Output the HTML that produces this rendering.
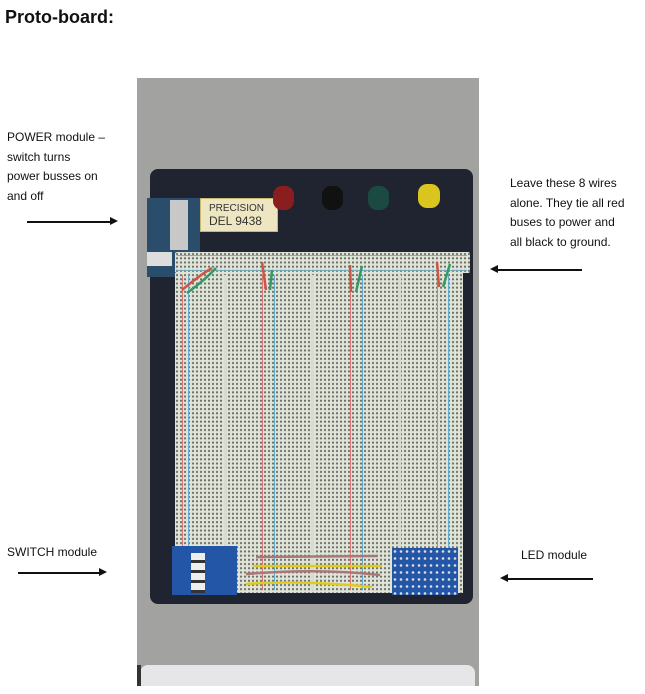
<!DOCTYPE html>
<html><head><meta charset="utf-8"><style>
body{margin:0;width:645px;height:694px;background:#fff;position:relative;overflow:hidden;font-family:"Liberation Sans",Arial,sans-serif}
.a{position:absolute}
.t{position:absolute;font-size:12px;line-height:19.5px;color:#111}
.arr{position:absolute;height:1.5px;background:#111}
.holes{background-color:#e0e4d8;background-image:radial-gradient(circle,#6d7068 0.9px,transparent 1.3px);background-size:4px 4.2px}
</style></head><body>
<div class="a" style="left:5px;top:7px;font-size:18px;font-weight:bold;color:#111">Proto-board:</div>

<div class="t" style="left:7px;top:128px">POWER module –<br>switch turns<br>power busses on<br>and off</div>
<div class="arr" style="left:27px;top:221px;width:84px"></div>
<div class="a" style="left:110px;top:217px;border-left:8px solid #111;border-top:4px solid transparent;border-bottom:4px solid transparent"></div>

<div class="t" style="left:510px;top:174px">Leave these 8 wires<br>alone. They tie all red<br>buses to power and<br>all black to ground.</div>
<div class="arr" style="left:497px;top:269px;width:85px"></div>
<div class="a" style="left:490px;top:265px;border-right:8px solid #111;border-top:4px solid transparent;border-bottom:4px solid transparent"></div>

<div class="t" style="left:7px;top:543px">SWITCH module</div>
<div class="arr" style="left:18px;top:572px;width:82px"></div>
<div class="a" style="left:99px;top:568px;border-left:8px solid #111;border-top:4px solid transparent;border-bottom:4px solid transparent"></div>

<div class="t" style="left:521px;top:546px">LED module</div>
<div class="arr" style="left:507px;top:578px;width:86px"></div>
<div class="a" style="left:500px;top:574px;border-right:8px solid #111;border-top:4px solid transparent;border-bottom:4px solid transparent"></div>

<!-- photo -->
<div class="a" style="left:137px;top:78px;width:342px;height:608px;background:#a2a2a0"></div>
<div class="a" style="left:140px;top:665px;width:335px;height:21px;background:#e6e6e8;border-radius:8px 8px 0 0"></div>
<div class="a" style="left:137px;top:665px;width:4px;height:21px;background:#333"></div>
<!-- board -->
<div class="a" style="left:150px;top:169px;width:323px;height:435px;background:#1f2430;border-radius:8px"></div>
<!-- label plate -->
<div class="a" style="left:200px;top:198px;width:78px;height:34px;background:#eee6c0;border:1px solid #c9b870;font-size:10px;line-height:13px;color:#333;padding:3px 0 0 8px;box-sizing:border-box">PRECISION<br><span style="font-size:12px">DEL 9438</span></div>
<!-- binding posts -->
<div class="a" style="left:273px;top:186px;width:21px;height:24px;border-radius:9px;background:#8a1d1d"></div>
<div class="a" style="left:322px;top:186px;width:21px;height:24px;border-radius:9px;background:#111"></div>
<div class="a" style="left:368px;top:186px;width:21px;height:24px;border-radius:9px;background:#1b4a42"></div>
<div class="a" style="left:418px;top:184px;width:22px;height:24px;border-radius:9px;background:#d9c51e"></div>
<!-- power module -->
<div class="a" style="left:147px;top:198px;width:53px;height:79px;background:#2a4d6b"></div>
<div class="a" style="left:170px;top:200px;width:18px;height:50px;background:#c8c8c8"></div>
<div class="a" style="left:147px;top:252px;width:25px;height:14px;background:#ddd"></div>
<!-- breadboard -->
<div class="a holes" style="left:175px;top:252px;width:295px;height:21px;border-radius:2px"></div>
<div class="a holes" style="left:175px;top:273px;width:288px;height:320px"></div>
<div class="a" style="left:177px;top:255px;width:290px;height:1px;background:#d88"></div>
<div class="a" style="left:177px;top:270px;width:290px;height:1px;background:#7ab"></div>
<div class="a" style="left:182px;top:275px;width:1px;height:315px;background:#d77"></div>
<div class="a" style="left:188px;top:275px;width:1px;height:315px;background:#6ac"></div>
<div class="a" style="left:262px;top:275px;width:1px;height:315px;background:#d77"></div>
<div class="a" style="left:274px;top:275px;width:1px;height:315px;background:#6ac"></div>
<div class="a" style="left:350px;top:275px;width:1px;height:315px;background:#d77"></div>
<div class="a" style="left:362px;top:275px;width:1px;height:315px;background:#6ac"></div>
<div class="a" style="left:437px;top:275px;width:1px;height:315px;background:#d77"></div>
<div class="a" style="left:448px;top:275px;width:1px;height:315px;background:#6ac"></div>
<div class="a" style="left:224px;top:275px;width:3px;height:315px;background:#d8dccf"></div>
<div class="a" style="left:311px;top:275px;width:3px;height:315px;background:#d8dccf"></div>
<div class="a" style="left:398px;top:275px;width:3px;height:315px;background:#d8dccf"></div>
<!-- wires -->
<svg class="a" style="left:0;top:0" width="645" height="694">
<g fill="none" stroke-width="2.5">
<path d="M182 290 Q200 275 212 268" stroke="#c54"/><path d="M187 293 Q205 280 216 268" stroke="#396"/>
<path d="M262 262 L266 290" stroke="#c54"/><path d="M272 270 L270 290" stroke="#396"/>
<path d="M350 265 L351 292" stroke="#c54"/><path d="M362 266 L356 292" stroke="#396"/>
<path d="M437 262 L439 287" stroke="#c54"/><path d="M450 264 L443 287" stroke="#396"/>
<path d="M256 557 L378 556" stroke="#a77"/><path d="M253 566 L382 566" stroke="#dc2"/>
<path d="M246 574 Q320 568 380 575" stroke="#a77"/><path d="M246 584 Q300 580 372 587" stroke="#dc2"/>
</g></svg>
<!-- switch module -->
<div class="a" style="left:172px;top:546px;width:65px;height:49px;background:#2456a8"></div>
<div class="a" style="left:191px;top:553px;width:14px;height:40px;background:repeating-linear-gradient(#eee 0 7px,#333 7px 10px)"></div>
<!-- LED module -->
<div class="a" style="left:392px;top:548px;width:66px;height:47px;background:#2456a8;background-image:radial-gradient(circle,#ddd 1px,transparent 1.6px);background-size:6px 7px"></div>
</body></html>
